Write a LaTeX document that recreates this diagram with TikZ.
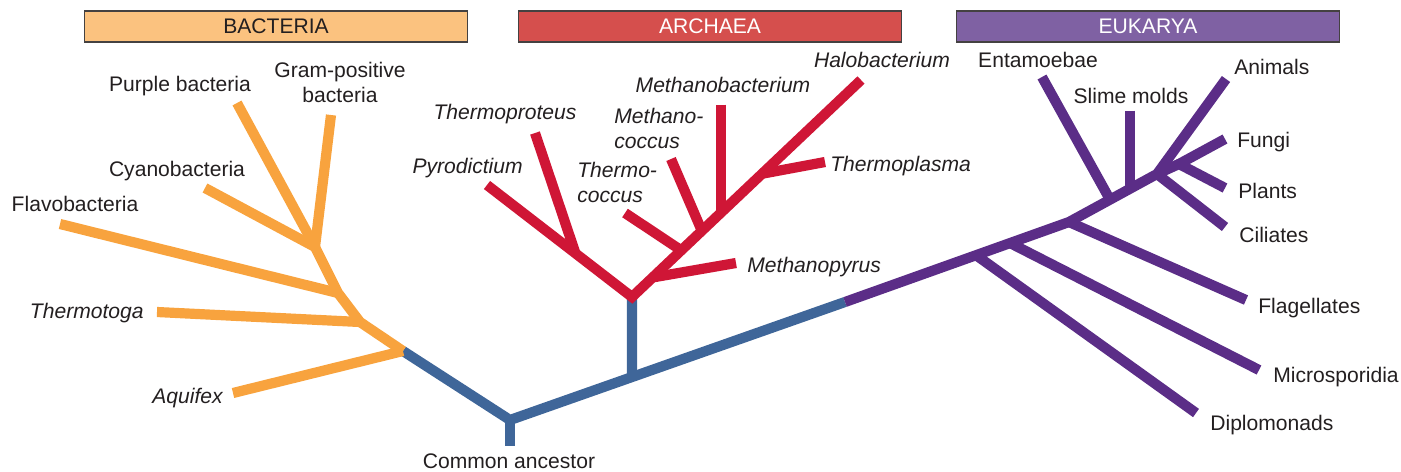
\documentclass[tikz,border=0pt]{standalone}
\usepackage{fontspec}
\setmainfont{Liberation Sans}
\usetikzlibrary{calc}
\definecolor{bacOrange}{HTML}{F8A33E}
\definecolor{bacBox}{HTML}{FBC27F}
\definecolor{rootBlue}{HTML}{3F6699}
\definecolor{arcRed}{HTML}{CF1636}
\definecolor{arcBox}{HTML}{D54F4D}
\definecolor{eukPurple}{HTML}{5B2D87}
\definecolor{eukBox}{HTML}{7F61A3}
\definecolor{txt}{HTML}{231F20}

\begin{document}
\begin{tikzpicture}[x=0.02cm,y=-0.02cm,font=\fontsize{12}{14}\selectfont,text=txt,
  branch/.style={line width=5.8pt,line join=miter},
  domainbox/.style={draw=txt!85,line width=0.6pt,minimum width=7.68cm,minimum height=0.62cm,inner sep=0pt},
  lbl/.style={inner sep=0pt},
  sp/.style={lbl,font=\fontsize{12}{14}\selectfont\itshape}]
  \useasboundingbox (0,0) rectangle (1401,471);
  % domain headers
  \node[domainbox,fill=bacBox] (bac) at (276,26.5) {BACTERIA};
  \node[domainbox,fill=arcBox,text=white] (arc) at (710,26.5) {ARCHAEA};
  \node[domainbox,fill=eukBox,text=white] (euk) at (1148,26.5) {EUKARYA};

  % root and trunk (units are pixels of the original figure, y downwards)
  \coordinate (root) at (510,420);  \coordinate (rootEnd) at (510,446);
  \coordinate (e0) at (845,302);
  \coordinate (a0) at ($(root)!0.364!(e0)$); \coordinate (a1) at (632,297);

  % bacteria
  \coordinate (b1) at (315,247); \coordinate (b2) at (338,293);
  \coordinate (b3) at (360,322); \coordinate (b4) at (403,351);
  \coordinate (tPur) at (237,103); \coordinate (tGram) at (331,115);
  \coordinate (tCyan) at (205,188); \coordinate (tFlav) at (60,224);
  \coordinate (tTmt) at (157,312); \coordinate (tAqu) at (233,393);

  % archaea
  \coordinate (tPyro) at (487,185); \coordinate (tHalo) at (861,80);
  \coordinate (aTpr) at ($(a1)!0.39!(tPyro)$); \coordinate (tTpr) at (535,133);
  \coordinate (aMp) at ($(a1)!0.09!(tHalo)$);  \coordinate (tMp) at (736,263);
  \coordinate (aTc) at ($(a1)!0.215!(tHalo)$); \coordinate (tTc) at (625,213);
  \coordinate (aMc) at ($(a1)!0.305!(tHalo)$); \coordinate (tMc) at (671,159);
  \coordinate (aMb) at ($(a1)!0.389!(tHalo)$); \coordinate (tMb) at ($(aMb)+(0,-108)$);
  \coordinate (aTp) at ($(a1)!0.568!(tHalo)$); \coordinate (tTp) at (825,162);

  % eukarya
  \coordinate (e1) at (1069,222); \coordinate (e2) at (1157,174); \coordinate (e3) at (1179,164);
  \coordinate (eDip) at ($(e0)!0.585!(e1)$); \coordinate (tDip) at (1196,413);
  \coordinate (eMic) at ($(e0)!0.737!(e1)$); \coordinate (tMic) at (1259,370);
  \coordinate (tFla) at (1246,300);
  \coordinate (eEnt) at ($(e1)!0.466!(e2)$); \coordinate (tEnt) at (1042,77);
  \coordinate (eSli) at ($(e1)!0.693!(e2)$); \coordinate (tSli) at ($(eSli)+(0,-78)$);
  \coordinate (tAni) at (1226,79); \coordinate (tFun) at (1225,139);
  \coordinate (tPla) at (1225,188); \coordinate (tCil) at (1225,227);

  % branches
  \draw[branch,rootBlue] (b4) -- (root) -- (e0);
  \draw[branch,rootBlue] (root) -- (rootEnd);
  \draw[branch,rootBlue] (a0) -- (a1);
  \draw[branch,bacOrange] (tPur) -- (b1) -- (b2) -- (b3) -- (b4);
  \foreach \t/\j in {tGram/b1,tCyan/b1,tFlav/b2,tTmt/b3,tAqu/b4}
    \draw[branch,bacOrange] (\t) -- (\j);
  \draw[branch,arcRed] (tPyro) -- (a1) -- (tHalo);
  \foreach \t/\j in {tTpr/aTpr,tMp/aMp,tTc/aTc,tMc/aMc,tMb/aMb,tTp/aTp}
    \draw[branch,arcRed] (\t) -- (\j);
  \draw[branch,eukPurple] (e0) -- (e1) -- (e2) -- (tAni);
  \draw[branch,eukPurple] (e2) -- (e3);
  \draw[branch,eukPurple] (tFun) -- (e3) -- (tPla);
  \foreach \t/\j in {tDip/eDip,tMic/eMic,tFla/e1,tEnt/eEnt,tSli/eSli,tCil/e2}
    \draw[branch,eukPurple] (\t) -- (\j);

  % labels
  \node[lbl,anchor=base] (lPur) at (180,91) {Purple bacteria};
  \node[lbl,anchor=north,align=center] (lGram) at (340,62) {Gram-positive\\bacteria};
  \node[lbl,anchor=base] (lCyan) at (177,176) {Cyanobacteria};
  \node[lbl,anchor=base] (lFlav) at (75,211) {Flavobacteria};
  \node[sp,anchor=base east] (lTmt) at (144,318) {Thermotoga};
  \node[sp,anchor=base east] (lAqu) at (223,403) {Aquifex};
  \node[sp,anchor=base east] (lPyro) at (523,173) {Pyrodictium};
  \node[sp,anchor=base] (lTpr) at (505,119) {Thermoproteus};
  \node[sp,anchor=north west,align=left] (lMc) at (614,108) {Methano-\\coccus};
  \node[sp,anchor=north west,align=left] (lTc) at (577,162) {Thermo-\\coccus};
  \node[sp,anchor=base] (lMb) at (723,92) {Methanobacterium};
  \node[sp,anchor=base] (lHalo) at (882,67) {Halobacterium};
  \node[sp,anchor=base west] (lTp) at (830,171) {Thermoplasma};
  \node[sp,anchor=base west] (lMp) at (747,272) {Methanopyrus};
  \node[lbl,anchor=base] (lEnt) at (1038,67) {Entamoebae};
  \node[lbl,anchor=base] (lSli) at (1131,103) {Slime molds};
  \node[lbl,anchor=base west] (lAni) at (1234,74) {Animals};
  \node[lbl,anchor=base west] (lFun) at (1237,147) {Fungi};
  \node[lbl,anchor=base west] (lPla) at (1238,198) {Plants};
  \node[lbl,anchor=base west] (lCil) at (1239,242) {Ciliates};
  \node[lbl,anchor=base west] (lFla) at (1258,313) {Flagellates};
  \node[lbl,anchor=base west] (lMic) at (1273,382) {Microsporidia};
  \node[lbl,anchor=base west] (lDip) at (1210,430) {Diplomonads};
  \node[lbl,anchor=base] (lRoot) at (509,468) {Common ancestor};
\end{tikzpicture}
\end{document}
